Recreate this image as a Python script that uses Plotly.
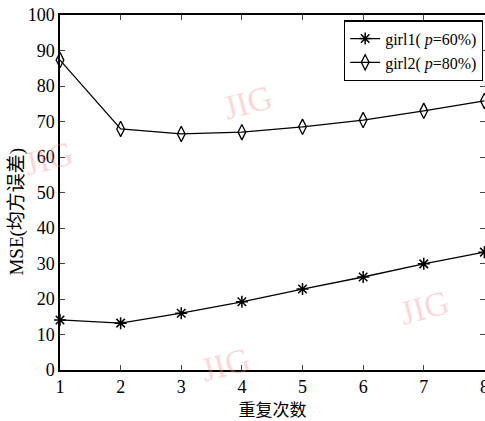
import plotly.graph_objects as go

x_vals = [1, 2, 3, 4, 5, 6, 7, 8]
girl1 = [14.1, 13.2, 16.0, 19.2, 22.8, 26.2, 29.9, 33.2]
girl2 = [87.3, 67.9, 66.5, 67.0, 68.5, 70.4, 73.0, 75.8]
names = ["girl1( <i>p</i>=60%)", "girl2( <i>p</i>=80%)"]
x_ticks = [1, 2, 3, 4, 5, 6, 7, 8]
y_ticks = [0, 10, 20, 30, 40, 50, 60, 70, 80, 90, 100]
x_title = "重复次数"
y_title = "MSE(均方误差)"

serif = "Liberation Serif, Times New Roman, serif"

fig = go.Figure()
fig.add_trace(go.Scatter(
    x=x_vals, y=girl1, name=names[0], mode="lines+markers",
    line=dict(color="black", width=1.3),
    marker=dict(symbol="asterisk-open", size=10, color="black",
                line=dict(color="black", width=1.5)),
    cliponaxis=False,
))
fig.add_trace(go.Scatter(
    x=x_vals, y=girl2, name=names[1], mode="lines+markers",
    line=dict(color="black", width=1.3),
    marker=dict(symbol="diamond-tall-open", size=11, color="black",
                line=dict(color="black", width=1.3)),
    cliponaxis=False,
))

# faint watermarks
for (wx, wy) in [(0.44, 0.83), (-0.1, 0.67), (0.93, 0.1), (0.39, -0.06)]:
    fig.add_annotation(text="JIG", xref="paper", yref="paper", x=wx, y=wy,
                       showarrow=False, textangle=-15,
                       font=dict(family=serif, size=34, color="rgba(245,140,140,0.35)"))

# y-axis title placed as in the reference
fig.add_annotation(text=y_title, xref="paper", yref="paper", x=-0.10, y=0.445,
                   xanchor="center", yanchor="middle", showarrow=False, textangle=-90,
                   font=dict(family="Liberation Serif, Noto Sans CJK SC", size=19, color="black"))

fig.update_layout(
    width=485, height=421,
    margin=dict(l=60, r=0, t=15, b=51),
    paper_bgcolor="white", plot_bgcolor="white",
    font=dict(family=serif, color="black", size=17),
    showlegend=True,
    legend=dict(x=0.995, y=0.985, xanchor="right", yanchor="top",
                bordercolor="black", borderwidth=1.3, bgcolor="white",
                font=dict(family=serif, size=16), tracegroupgap=0,
                itemwidth=30),
    xaxis=dict(range=[1, 8.01], tickvals=x_ticks, ticks="inside", ticklen=5,
               showgrid=False, zeroline=False, showline=True, linecolor="black",
               linewidth=1.5, mirror="ticks", tickfont=dict(family=serif, size=18),
               automargin=False, ticklabeloverflow="allow",
               title=dict(text=x_title, font=dict(family="Noto Sans CJK SC", size=17))),
    yaxis=dict(range=[0, 100], tickvals=y_ticks, ticks="inside", ticklen=5,
               showgrid=False, zeroline=False, showline=True, linecolor="black",
               linewidth=1.5, mirror="ticks", tickfont=dict(family=serif, size=18),
               automargin=False, ticklabeloverflow="allow"),
)

fig.write_html("out.html", config={"displayModeBar": False},
               post_script="document.body.style.margin='0';document.body.style.overflow='hidden';")
